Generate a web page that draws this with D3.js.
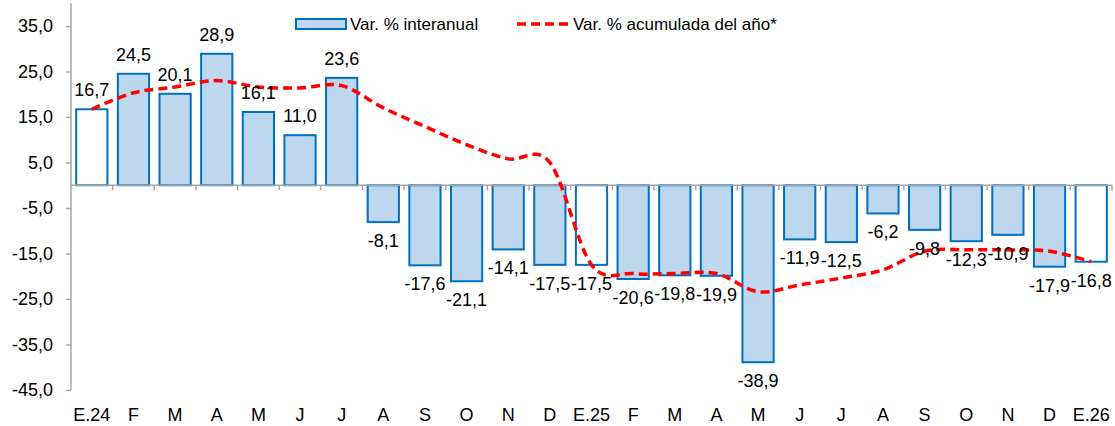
<!DOCTYPE html>
<html>
<head>
<meta charset="utf-8">
<script src="https://cdn.jsdelivr.net/npm/d3@7"></script>
<style>
  body { margin: 0; background: #fff; }
  text { font-family: "Liberation Sans", Arial, sans-serif; fill: #000; }
</style>
</head>
<body>
<svg id="chart" width="1115" height="426"></svg>
<script>
// months (category labels)
const months = ['E.24','F','M','A','M','J','J','A','S','O','N','D',
                'E.25','F','M','A','M','J','J','A','S','O','N','D','E.26']
// Var. % interanual (bars)
const interanual = [16.7, 24.5, 20.1, 28.9, 16.1, 11.0, 23.6, -8.1, -17.6, -21.1, -14.1, -17.5,
                    -17.5, -20.6, -19.8, -19.9, -38.9, -11.9, -12.5, -6.2, -9.8, -12.3, -10.9, -17.9, -16.8]
// Var. % acumulada del año (line)
const acumulada = [16.7, 20.3, 21.6, 23.0, 21.6, 21.4, 21.9, 17.0, 12.9, 8.9, 5.8, 5.0,
                   -17.5, -19.4, -19.4, -19.4, -23.4, -21.9, -20.4, -18.6, -14.5, -14.2, -14.2, -14.5, -16.8]
// January bars are drawn hollow
const hollow = [0, 12, 24]
const yTicks = [-45, -35, -25, -15, -5, 5, 15, 25, 35]

const svg = d3.select('#chart')
const barFill = '#bdd7ee'
const barStroke = '#0070c0'
const axisColor = '#a6a6a6'
const fontSize = '18px'
const legendFont = '17px'

const idx = d3.range(months.length)

const x = d3.scaleBand()
  .domain(idx)
  .range([71, 1112])
  .paddingInner(0.25)
  .paddingOuter(0.125)

const y = d3.scaleLinear()
  .domain([-45, 40])
  .range([390, 3.25])

const fmt = v => d3.format('.1f')(v).replace('.', ',').replace('−', '-')

// y axis
const yAxis = svg.append('g')
  .attr('transform', 'translate(71,0)')
  .call(d3.axisLeft(y).tickValues(yTicks).tickSize(5).tickSizeOuter(0).tickFormat(fmt))
yAxis.select('.domain').attr('stroke', axisColor).attr('stroke-width', 1.5)
  .attr('d', `M0,${y(40)}V${y(-45)}`)
yAxis.selectAll('.tick line').attr('stroke', axisColor).attr('stroke-width', 1.5)
yAxis.selectAll('.tick text')
  .attr('x', -18)
  .style('font-size', fontSize)
  .style('font-family', '"Liberation Sans", Arial, sans-serif')

// bars
svg.selectAll('rect.bar')
  .data(interanual)
  .enter()
  .append('rect')
  .attr('class', 'bar')
  .attr('x', (d, i) => x(i))
  .attr('y', d => y(Math.max(0, d)))
  .attr('width', x.bandwidth())
  .attr('height', d => Math.abs(y(d) - y(0)))
  .attr('fill', (d, i) => hollow.includes(i) ? '#fff' : barFill)
  .attr('stroke', barStroke)
  .attr('stroke-width', 2)

// zero line with category ticks
const step = x.step()
svg.append('line')
  .attr('x1', 71).attr('x2', 1112)
  .attr('y1', y(0)).attr('y2', y(0))
  .attr('stroke', axisColor).attr('stroke-width', 1.5)
svg.selectAll('line.cat')
  .data(d3.range(1, months.length + 1))
  .enter()
  .append('line')
  .attr('class', 'cat')
  .attr('x1', i => x(i - 1) + x.bandwidth() + (step - x.bandwidth()) / 2)
  .attr('x2', i => x(i - 1) + x.bandwidth() + (step - x.bandwidth()) / 2)
  .attr('y1', y(0)).attr('y2', y(0) + 5)
  .attr('stroke', axisColor).attr('stroke-width', 1.5)

// month labels at bottom
svg.selectAll('text.month')
  .data(months)
  .enter()
  .append('text')
  .attr('class', 'month')
  .attr('x', (d, i) => x(i) + x.bandwidth() / 2)
  .attr('y', 421)
  .attr('text-anchor', 'middle')
  .style('font-size', fontSize)
  .text(d => d)

// cumulative line
const line = d3.line()
  .x((d, i) => x(i) + x.bandwidth() / 2)
  .y(d => y(d))
  .curve(d3.curveCatmullRom.alpha(0))

svg.append('path')
  .datum(acumulada)
  .attr('fill', 'none')
  .attr('stroke', '#ff0000')
  .attr('stroke-width', 3.5)
  .attr('stroke-dasharray', '9,5')
  .attr('d', line)

// value labels
svg.selectAll('text.val')
  .data(interanual)
  .enter()
  .append('text')
  .attr('class', 'val')
  .attr('x', (d, i) => x(i) + x.bandwidth() / 2)
  .attr('y', d => d >= 0 ? y(d) - 13 : y(d) + 25)
  .attr('text-anchor', 'middle')
  .style('font-size', fontSize)
  .text(d => fmt(d))

// legend
const legend = svg.append('g')
legend.append('rect')
  .attr('x', 296).attr('y', 19)
  .attr('width', 50).attr('height', 10)
  .attr('fill', barFill).attr('stroke', barStroke).attr('stroke-width', 2)
legend.append('text')
  .attr('x', 350).attr('y', 30)
  .style('font-size', legendFont)
  .text('Var. % interanual')
legend.append('line')
  .attr('x1', 517).attr('x2', 569)
  .attr('y1', 24).attr('y2', 24)
  .attr('stroke', '#ff0000').attr('stroke-width', 3.5)
  .attr('stroke-dasharray', '9,5')
legend.append('text')
  .attr('x', 573).attr('y', 30)
  .style('font-size', legendFont)
  .text('Var. % acumulada del año*')
</script>
</body>
</html>
